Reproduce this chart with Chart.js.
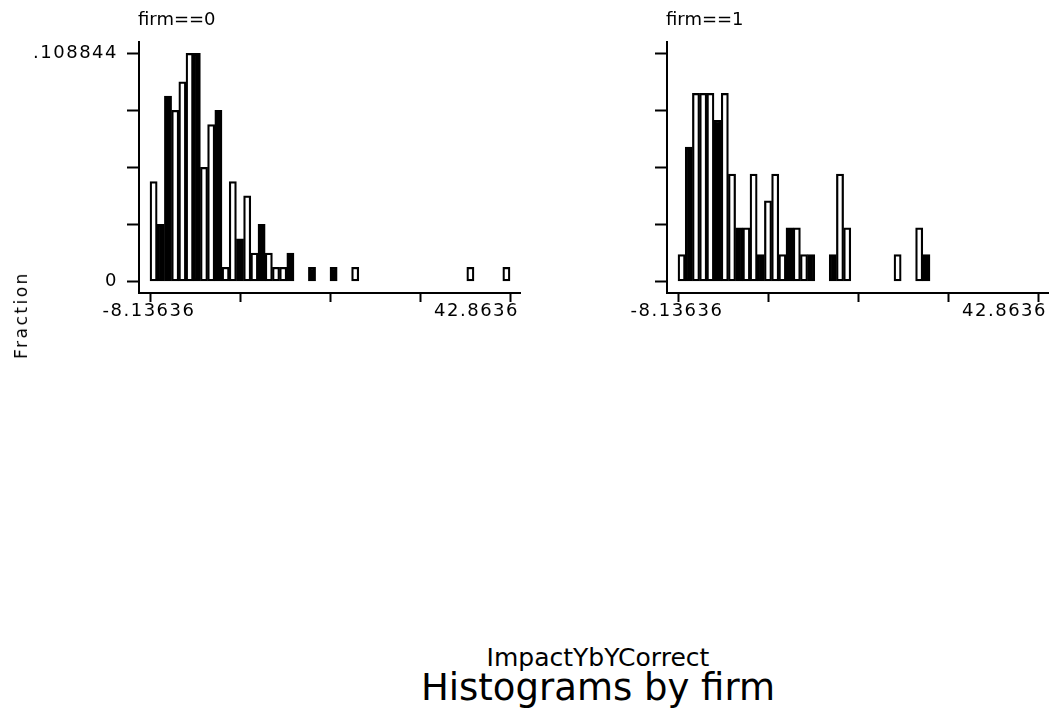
<!DOCTYPE html>
<html>
<head>
<meta charset="utf-8">
<script src="https://cdn.jsdelivr.net/npm/chart.js@4.4.1/dist/chart.umd.min.js"></script>
<style>
  body { margin: 0; background: #fff; width: 1052px; height: 713px; overflow: hidden; position: relative; font-family: "DejaVu Sans", sans-serif; color: #000; }
  canvas { position: absolute; top: 0; }
  #leftPlot { left: 0; }
  #rightPlot { left: 528px; }
  .panelTitle { position: absolute; top: 10px; font-size: 18px; line-height: 18px; white-space: nowrap; }
  #ytitle { position: absolute; left: 21px; top: 315px; font-size: 17px; letter-spacing: 2.5px; white-space: nowrap;
            transform: translate(-50%, -50%) rotate(-90deg); }
  .bottom { position: absolute; left: 0; width: 1196px; text-align: center; white-space: nowrap; }
  #varName { top: 645px; font-size: 25px; line-height: 25px; }
  #mainTitle { top: 669px; font-size: 37px; line-height: 37px; }
</style>
</head>
<body>
<canvas id="leftPlot" width="530" height="320"></canvas>
<canvas id="rightPlot" width="524" height="320"></canvas>
<div class="panelTitle" style="left:138px">firm==0</div>
<div class="panelTitle" style="left:666px">firm==1</div>
<div id="ytitle">Fraction</div>
<div class="bottom" id="varName">ImpactYbYCorrect</div>
<div class="bottom" id="mainTitle">Histograms by firm</div>
<script>
// x range shown by the tick labels, 50 bins between them
const xMinValue = -8.13636;
const xMaxValue = 42.8636;
const binCount = 50;
const xTickLabels = ['-8.13636', '42.8636'];

// y axis: top tick is the largest fraction
const yTopValue = 0.108844;
const yTickLabels = ['0', '', '', '', '.108844'];

// counts per bin
const firm0Counts = [7, 4, 13, 12, 14, 16, 16, 8, 11, 12, 1, 7, 3, 6, 2, 4, 2, 1, 1, 2,
                     0, 0, 1, 0, 0, 1, 0, 0, 1, 0, 0, 0, 0, 0, 0, 0, 0, 0, 0, 0,
                     0, 0, 0, 0, 1, 0, 0, 0, 0, 1];
const firm1Counts = [1, 5, 7, 7, 7, 6, 7, 4, 2, 2, 4, 1, 3, 4, 1, 2, 2, 1, 1, 0,
                     0, 1, 4, 2, 0, 0, 0, 0, 0, 0, 1, 0, 0, 2, 1, 0, 0, 0, 0, 0,
                     0, 0, 0, 0, 0, 0, 0, 0, 0, 0];

// bins that came out solid black in the original render
const firm0SolidBins = [1, 2, 6, 9, 12, 15, 19, 22, 25];
const firm1SolidBins = [1, 5, 8, 11, 15, 18, 21, 34];

const pxPerUnit = 360 / (xMaxValue - xMinValue);
const xLo = xMinValue - 11 / pxPerUnit;
const xHi = xLo + 381 / pxPerUnit;
const yPx = 228.2 / yTopValue;
const yLo = -11.5 / yPx;
const yHi = yTopValue + 11.3 / yPx;

const tickFont = { family: 'DejaVu Sans', size: 18 };

const spacingPlugin = {
    id: 'spacing',
    beforeDraw(chart) {
        chart.ctx.letterSpacing = '1.5px';
    }
};

const xLabelPlugin = {
    id: 'xLabels',
    afterDraw(chart) {
        const ctx = chart.ctx;
        const x = chart.scales.x;
        ctx.save();
        ctx.font = '18px "DejaVu Sans"';
        ctx.letterSpacing = '1.5px';
        ctx.fillStyle = '#000';
        ctx.textBaseline = 'alphabetic';
        ctx.textAlign = 'center';
        ctx.fillText(xTickLabels[0], x.getPixelForValue(xMinValue) - 1, 316);
        ctx.textAlign = 'right';
        ctx.fillText(xTickLabels[1], x.getPixelForValue(xMaxValue) + 9, 316);
        ctx.restore();
    }
};

function makeHist(id, counts, solidBins, showYLabels, rightPad) {
    const total = counts.reduce((a, b) => a + b, 0);
    const binW = (xMaxValue - xMinValue) / binCount;
    const points = counts.map((c, i) => ({ x: xMinValue + (i + 0.5) * binW, y: c ? c / total : null }));

    return new Chart(document.getElementById(id), {
        type: 'bar',
        data: {
            datasets: [{
                data: points,
                backgroundColor: ctx => solidBins.includes(ctx.dataIndex) ? '#000' : '#fff',
                borderColor: '#000',
                borderWidth: 2.25,
                borderSkipped: false,
                barPercentage: 1,
                categoryPercentage: 1,
            }]
        },
        options: {
            animation: false,
            responsive: false,
            layout: { padding: { top: 42, right: rightPad, left: 0, bottom: 0 } },
            plugins: {
                legend: { display: false },
                tooltip: { enabled: false },
            },
            scales: {
                x: {
                    type: 'linear',
                    min: xLo,
                    max: xHi,
                    offset: false,
                    afterBuildTicks: scale => {
                        const step = (xMaxValue - xMinValue) / 4;
                        scale.ticks = [0, 1, 2, 3, 4].map(k => ({ value: xMinValue + k * step }));
                    },
                    afterFit: scale => { scale.height = 27; },
                    grid: { offset: false, drawOnChartArea: false, tickLength: 9, tickColor: '#000', tickWidth: 2 },
                    border: { color: '#000', width: 2 },
                    ticks: { autoSkip: false, maxRotation: 0, callback: () => '' },
                },
                y: {
                    min: yLo,
                    max: yHi,
                    afterBuildTicks: scale => {
                        scale.ticks = [0, 1, 2, 3, 4].map(k => ({ value: k * yTopValue / 4 }));
                    },
                    afterFit: scale => { scale.width = 139; },
                    grid: { drawOnChartArea: false, tickLength: 12, tickColor: '#000', tickWidth: 2 },
                    border: { color: '#000', width: 2 },
                    ticks: {
                        color: '#000',
                        font: tickFont,
                        padding: 9,
                        callback: (v, i) => showYLabels ? yTickLabels[i] : '',
                    },
                },
            },
        },
        plugins: [spacingPlugin, xLabelPlugin],
    });
}

makeHist('leftPlot', firm0Counts, firm0SolidBins, true, 10);
makeHist('rightPlot', firm1Counts, firm1SolidBins, false, 4);
</script>
</body>
</html>
